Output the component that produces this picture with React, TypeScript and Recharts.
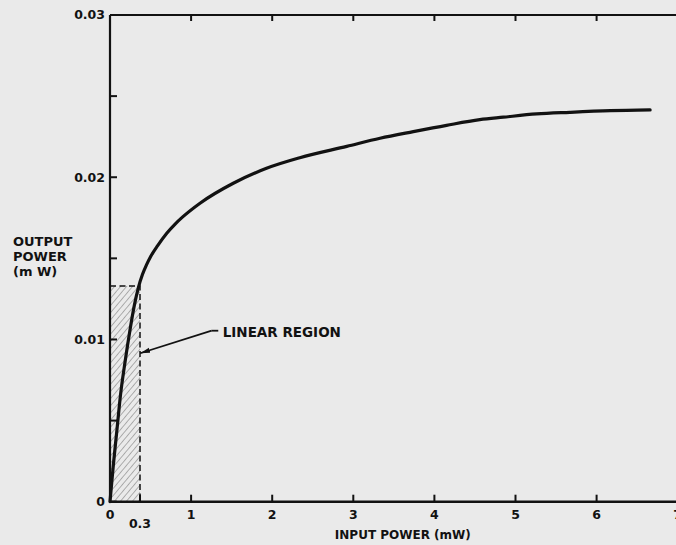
import React from 'react';
import {
  LineChart,
  Line,
  XAxis,
  YAxis,
  ReferenceArea,
  ReferenceLine,
  ReferenceDot,
} from 'recharts';

// Curve: input power (mW) vs output power (mW)
const inputPower = [
  0, 0.04, 0.085, 0.13, 0.185, 0.247, 0.3, 0.35, 0.4, 0.45, 0.5, 0.59, 0.7, 0.8, 0.9,
  1.11, 1.52, 1.93, 2.34, 2.92, 3.33, 3.74, 4.15, 4.56, 4.85, 5.26, 5.67, 6.17, 6.66,
];
const outputPower = [
  0, 0.0022, 0.0044, 0.0066, 0.0086, 0.0106, 0.0121, 0.0132, 0.014, 0.0146, 0.0151,
  0.0158, 0.01655, 0.0171, 0.01757, 0.0184, 0.01963, 0.02055, 0.0212, 0.0219, 0.0224,
  0.02281, 0.0232, 0.02355, 0.0237, 0.0239, 0.024, 0.0241, 0.02415,
];

// Bottom axis ticks (the "0.3" mark is drawn at this position in the picture)
const xTickValues = [0, 0.37, 1, 2, 3, 4, 5, 6, 7];
const xTickLabels = ['0', '0.3', '1', '2', '3', '4', '5', '6', '7'];
const xTopTicks = [1, 2, 3, 4, 5, 6];

const yTickValues = [0, 0.005, 0.01, 0.015, 0.02, 0.025, 0.03];
const yTickLabels = ['0', '', '0.01', '', '0.02', '', '0.03'];
const yRightTicks = [0.005, 0.01, 0.015, 0.02, 0.025];

// Linear region (hatched box) and annotation
const linearRegionX = 0.37;
const linearRegionY = 0.0133;
const arrowStart = { x: 1.254, y: 0.01054 };
const arrowTip = { x: 0.372, y: 0.00915 };
const arrowTail = { x: 1.335, y: 0.01054 };
const annotationPos = { x: 1.39, y: 0.01042 };
const annotationText = 'LINEAR REGION';

const xAxisTitle = 'INPUT POWER (mW)';
const yAxisTitle = ['OUTPUT', 'POWER', '(m W)'];

const data = inputPower.map((x, i) => ({ x, y: outputPower[i] }));

const INK = '#121212';
const FONT = '"DejaVu Sans", "Liberation Sans", sans-serif';

const XTick = (props: any) => {
  const { x, y, payload } = props;
  const idx = xTickValues.indexOf(payload.value);
  const label = idx >= 0 ? xTickLabels[idx] : '';
  const extra = label === '0.3' ? 9 : 0;
  return (
    <text
      x={x}
      y={y + extra}
      dy="0.71em"
      textAnchor="middle"
      fill={INK}
      fontSize={12.5}
      fontWeight="bold"
      fontFamily={FONT}
    >
      {label}
    </text>
  );
};

const renderXTitle = (props: any) => {
  const vb = props.viewBox || {};
  return (
    <text
      x={vb.x + vb.width / 2 + 9}
      y={vb.y + 37.7}
      textAnchor="middle"
      fill={INK}
      fontSize={12}
      fontWeight="bold"
      fontFamily={FONT}
    >
      {xAxisTitle}
    </text>
  );
};

const renderYTitle = (props: any) => {
  const vb = props.viewBox || {};
  return (
    <text fill={INK} fontSize={13} fontWeight="bold" fontFamily={FONT}>
      {yAxisTitle.map((line, i) => (
        <tspan key={i} x={vb.x + 13} y={vb.y + 231.4 + i * 15}>
          {line}
        </tspan>
      ))}
    </text>
  );
};

const ArrowShape = (props: any) => (
  <line
    x1={props.x1}
    y1={props.y1}
    x2={props.x2}
    y2={props.y2}
    stroke={INK}
    strokeWidth={1.8}
    markerEnd="url(#arrowHead)"
  />
);

export default function App() {
  return (
    <div
      style={{
        position: 'fixed',
        left: 0,
        top: 0,
        width: 676,
        height: 545,
        overflow: 'hidden',
        background: '#eaeaea',
      }}
    >
      <LineChart
        width={700}
        height={545}
        data={data}
        margin={{ top: 15, right: 22.3, bottom: 0, left: 0 }}
      >
        <defs>
          <pattern
            id="hatch"
            patternUnits="userSpaceOnUse"
            width={4.6}
            height={4.6}
            patternTransform="rotate(40)"
          >
            <line x1={0} y1={0} x2={0} y2={4.6} stroke="#6e6e6e" strokeWidth={1} />
          </pattern>
          <marker
            id="arrowHead"
            markerUnits="userSpaceOnUse"
            markerWidth={11}
            markerHeight={6}
            refX={10}
            refY={3}
            orient="auto"
          >
            <path d="M0,0.5 L10,3 L0,5.5 z" fill={INK} />
          </marker>
        </defs>
        <XAxis
          dataKey="x"
          type="number"
          domain={[0, 7]}
          ticks={xTickValues}
          interval={0}
          height={43.3}
          tickSize={-7}
          tickMargin={15}
          tick={<XTick />}
          axisLine={{ stroke: INK, strokeWidth: 2.6 }}
          tickLine={{ stroke: INK, strokeWidth: 2 }}
          label={renderXTitle}
        />
        <XAxis
          xAxisId="top"
          dataKey="x"
          type="number"
          orientation="top"
          mirror
          domain={[0, 7]}
          ticks={xTopTicks}
          interval={0}
          height={20}
          tickSize={6}
          tickFormatter={() => ''}
          axisLine={{ stroke: INK, strokeWidth: 2 }}
          tickLine={{ stroke: INK, strokeWidth: 2 }}
        />
        <YAxis
          type="number"
          domain={[0, 0.03]}
          ticks={yTickValues}
          interval={0}
          width={110}
          tickSize={-7}
          tickMargin={12}
          tickFormatter={(v: number) => {
            const idx = yTickValues.indexOf(v);
            return idx >= 0 ? yTickLabels[idx] : '';
          }}
          tick={{ fill: INK, fontSize: 12.5, fontWeight: 'bold', fontFamily: FONT }}
          axisLine={{ stroke: INK, strokeWidth: 2.2 }}
          tickLine={{ stroke: INK, strokeWidth: 2 }}
          label={renderYTitle}
        />
        <YAxis
          yAxisId="right"
          type="number"
          orientation="right"
          mirror
          domain={[0, 0.03]}
          ticks={yRightTicks}
          interval={0}
          width={20}
          tickSize={6}
          tickFormatter={() => ''}
          axisLine={{ stroke: INK, strokeWidth: 2 }}
          tickLine={{ stroke: INK, strokeWidth: 2 }}
        />
        <ReferenceArea
          x1={0}
          x2={linearRegionX}
          y1={0}
          y2={linearRegionY}
          fill="url(#hatch)"
          fillOpacity={1}
          stroke={INK}
          strokeWidth={1.5}
          strokeDasharray="6 3.5"
          ifOverflow="visible"
        />
        <ReferenceLine
          segment={[arrowStart, arrowTip]}
          shape={ArrowShape}
          ifOverflow="visible"
        />
        <ReferenceLine
          segment={[arrowStart, arrowTail]}
          stroke={INK}
          strokeWidth={1.8}
          ifOverflow="visible"
        />
        <ReferenceDot
          x={annotationPos.x}
          y={annotationPos.y}
          r={0}
          fill="none"
          stroke="none"
          ifOverflow="visible"
          label={{
            value: annotationText,
            position: 'right',
            offset: 0,
            fill: INK,
            fontSize: 13.5,
            fontWeight: 'bold',
            fontFamily: FONT,
          }}
        />
        <Line
          type="monotone"
          dataKey="y"
          stroke={INK}
          strokeWidth={3.2}
          strokeLinecap="round"
          dot={false}
          activeDot={false}
          isAnimationActive={false}
        />
      </LineChart>
    </div>
  );
}
